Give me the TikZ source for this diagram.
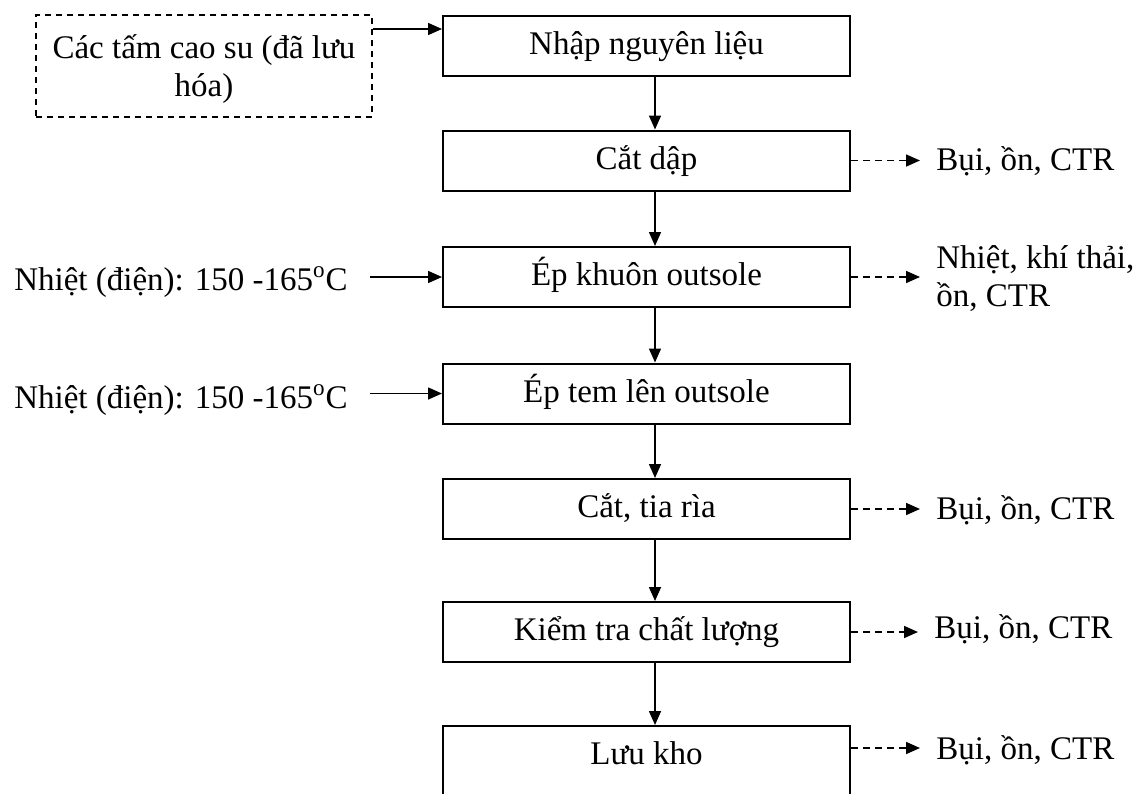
\documentclass[tikz,border=0pt]{standalone}
\usepackage{fontspec}
\setmainfont{Liberation Serif}
\usetikzlibrary{arrows.meta}
\begin{document}
\begin{tikzpicture}[
  x=0.5pt, y=-0.5pt,
  every node/.style={font=\fontsize{16.5}{19}\selectfont},
  stepbox/.style={draw, line width=1pt, minimum width=203.5pt, minimum height=30pt,
    inner sep=0pt, text height=0.95em, text depth=0.1em},
  srcbox/.style={draw, line width=0.9pt, dash pattern=on 3pt off 2.5pt,
    minimum width=168pt, minimum height=51pt, inner sep=0pt},
  arr/.style={line width=0.75pt, -{Triangle[length=7pt, width=6pt]}},
  darr/.style={line width=0.8pt, dash pattern=on 3.5pt off 2.5pt, -{Triangle[length=7pt, width=6pt]}},
  outlbl/.style={anchor=base west, inner xsep=8pt, align=left},
  inlbl/.style={anchor=base east, inner xsep=11pt},
]
\clip (0,0) rectangle (1144,793);

% process chain
\node[stepbox] (b1) at (646.5,45.5) {Nhập nguyên liệu};
\node[stepbox] (b2) at (646.5,160.5) {Cắt dập};
\node[stepbox] (b3) at (646.5,277) {Ép khuôn outsole};
\node[stepbox] (b4) at (646.5,393.5) {Ép tem lên outsole};
\node[stepbox] (b5) at (646.5,509) {Cắt, tia rìa};
\node[stepbox] (b6) at (646.5,632) {Kiểm tra chất lượng};
\node[stepbox, anchor=north, minimum height=0pt, text height=19pt, text depth=40pt]
  (b7) at (646.5,725) {Lưu kho};

% raw material (text set slightly below the box centre)
\node[srcbox] (src) at (204,66)
  {\raisebox{-2pt}[\height][\depth]{\begin{tabular}{@{}c@{}}Các tấm cao su (đã lưu\\hóa)\end{tabular}}};
\coordinate (ya) at (0,29);
\draw[arr] (src.east |- ya) -- (b1.west |- ya);

% main flow
\coordinate (ax) at (655,0);
\draw[arr] (b1.south -| ax) -- (b2.north -| ax);
\draw[arr] (b2.south -| ax) -- (b3.north -| ax);
\draw[arr] (b3.south -| ax) -- (b4.north -| ax);
\draw[arr] (b4.south -| ax) -- (b5.north -| ax);
\draw[arr] (b5.south -| ax) -- (b6.north -| ax);
\draw[arr] (b6.south -| ax) -- (b7.north -| ax);

% heat inputs
\node[inlbl] (h3) at (370,290) {Nhiệt (điện): 150 -165\textsuperscript{o}C};
\node[inlbl] (h4) at (370,408) {Nhiệt (điện): 150 -165\textsuperscript{o}C};
\draw[arr] (h3.east |- b3.west) -- (b3.west);
\draw[arr] (h4.east |- b4.west) -- (b4.west);

% emissions
\node[outlbl] (e2) at (920,170) {Bụi, ồn, CTR};
\node[outlbl, anchor=west, inner ysep=0pt] (e3) at (920,279) {Nhiệt, khí thải,\\[0pt]ồn, CTR};
\node[outlbl] (e5) at (920,519) {Bụi, ồn, CTR};
\node[outlbl] (e6) at (918,638) {Bụi, ồn, CTR};
\node[outlbl] (e7) at (920,759) {Bụi, ồn, CTR};
\draw[darr] (b2.east) -- (e2.west |- b2.east);
\draw[darr] (b3.east) -- (e3.west |- b3.east);
\draw[darr] (b5.east) -- (e5.west |- b5.east);
\draw[darr] (b6.east) -- (e6.west |- b6.east);
\draw[darr] (b7.east |- 0,748) -- (e7.west |- 0,748);
\end{tikzpicture}
\end{document}
